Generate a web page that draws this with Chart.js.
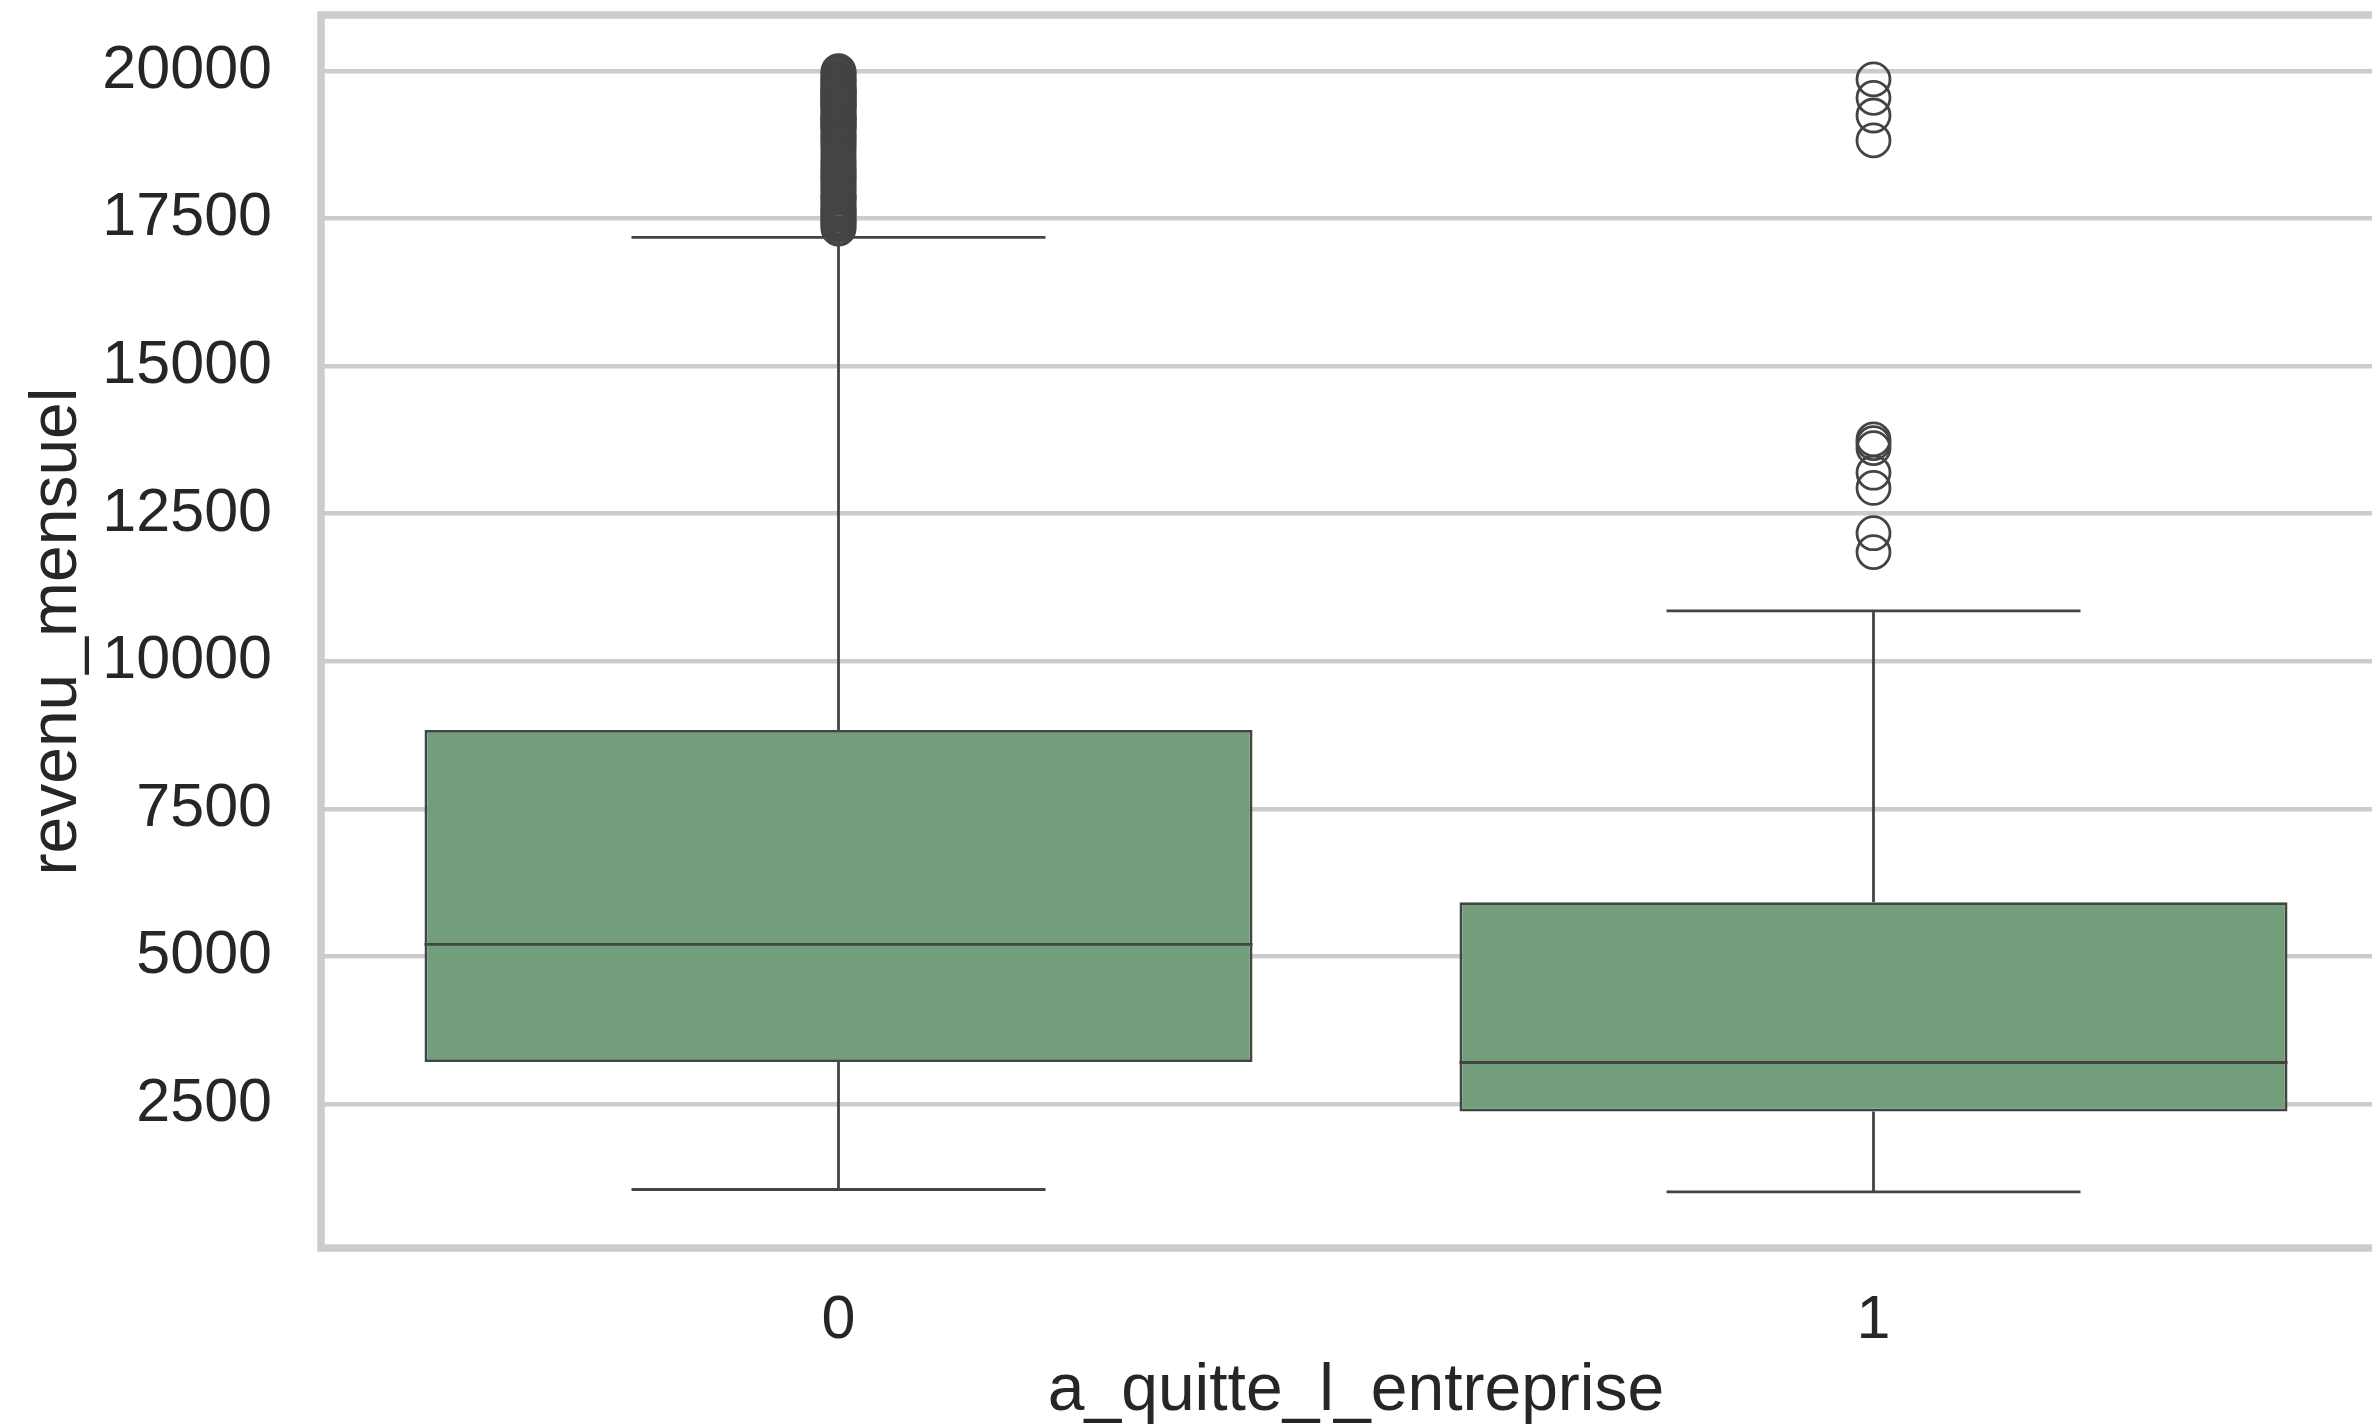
<!DOCTYPE html>
<html>
<head>
<meta charset="utf-8">
<script src="https://cdn.jsdelivr.net/npm/chart.js@4.4.1/dist/chart.umd.min.js"></script>
<style>
  html, body { margin: 0; padding: 0; background: #ffffff; overflow: hidden; width: 2372px; height: 1425px; }
  canvas { display: block; }
</style>
</head>
<body>
<canvas id="chart" width="2400" height="1440"></canvas>
<script>
// Monthly income by attrition group (box summary + outliers)
const categories = ['0', '1'];
const q1 = [3211, 2373];
const medians = [5204, 3202];
const q3 = [8834, 5916];
const whiskerLow = [1051, 1009];
const whiskerHigh = [17181, 10854];

const outliers0 = [
  17328, 17352, 17399, 17426, 17444, 17465, 17498, 17523, 17567, 17584,
  17603, 17639, 17650, 17665, 17702, 17741, 17779, 17810, 17856, 17861,
  17875, 17924, 17968, 18003, 18041, 18061, 18103, 18142, 18172, 18200,
  18213, 18265, 18300, 18303, 18352, 18389, 18430, 18477, 18512, 18560,
  18606, 18665, 18711, 18740, 18789, 18823, 18844, 18880, 18915, 18947,
  18990, 19033, 19045, 19049, 19081, 19094, 19141, 19144, 19161, 19189,
  19197, 19202, 19232, 19237, 19272, 19299, 19328, 19353, 19392, 19406,
  19419, 19431, 19436, 19465, 19502, 19513, 19517, 19537, 19566, 19586,
  19613, 19626, 19627, 19636, 19658, 19665, 19701, 19717, 19740, 19766,
  19797, 19833, 19845, 19847, 19881, 19926, 19943, 19973, 19999
];
const outliers1 = [11849, 12169, 12936, 13194, 13610, 13695, 13758, 18824, 19246, 19545, 19859];

const yTicks = [2500, 5000, 7500, 10000, 12500, 15000, 17500, 20000];
const yMin = 59.5;
const yMax = 20948.5;

const xTitle = 'a_quitte_l_entreprise';
const yTitle = 'revenu_mensuel';

const boxFill = '#729e7c';
const lineColor = '#444444';
const gridColor = '#cccccc';
const textColor = '#262626';
const fontFamily = '"Liberation Sans", Arial, sans-serif';

const outlierPoints = [];
outliers0.forEach(v => outlierPoints.push({ x: categories[0], y: v }));
outliers1.forEach(v => outlierPoints.push({ x: categories[1], y: v }));

// Whiskers and caps under the boxes, medians over them, frame on top
const boxParts = {
  id: 'boxParts',
  beforeDatasetsDraw(chart) {
    const { ctx, scales: { x, y } } = chart;
    const step = x.getPixelForValue(1) - x.getPixelForValue(0);
    ctx.save();
    ctx.strokeStyle = lineColor;
    ctx.lineWidth = 2.8;
    ctx.lineCap = 'butt';
    categories.forEach((c, i) => {
      const cx = x.getPixelForValue(i);
      ctx.beginPath();
      ctx.moveTo(cx, y.getPixelForValue(q1[i]));
      ctx.lineTo(cx, y.getPixelForValue(whiskerLow[i]));
      ctx.moveTo(cx, y.getPixelForValue(q3[i]));
      ctx.lineTo(cx, y.getPixelForValue(whiskerHigh[i]));
      const half = step * 0.2;
      ctx.moveTo(cx - half, y.getPixelForValue(whiskerLow[i]));
      ctx.lineTo(cx + half, y.getPixelForValue(whiskerLow[i]));
      ctx.moveTo(cx - half, y.getPixelForValue(whiskerHigh[i]));
      ctx.lineTo(cx + half, y.getPixelForValue(whiskerHigh[i]));
      ctx.stroke();
    });
    ctx.restore();
  },
  afterDatasetDraw(chart, args) {
    if (args.index !== 0) return;
    const { ctx, scales: { x, y } } = chart;
    const step = x.getPixelForValue(1) - x.getPixelForValue(0);
    ctx.save();
    ctx.strokeStyle = lineColor;
    ctx.lineWidth = 2.8;
    categories.forEach((c, i) => {
      const cx = x.getPixelForValue(i);
      const my = y.getPixelForValue(medians[i]);
      ctx.beginPath();
      ctx.moveTo(cx - step * 0.4, my);
      ctx.lineTo(cx + step * 0.4, my);
      ctx.stroke();
    });
    ctx.restore();
  },
  afterDraw(chart) {
    const { ctx, chartArea: a } = chart;
    ctx.save();
    ctx.strokeStyle = gridColor;
    ctx.lineWidth = 7.5;
    ctx.lineJoin = 'miter';
    ctx.strokeRect(a.left, a.top, a.right - a.left, a.bottom - a.top);
    ctx.restore();
  }
};

new Chart(document.getElementById('chart'), {
  type: 'bar',
  data: {
    labels: categories,
    datasets: [
      {
        type: 'bar',
        data: q1.map((v, i) => [v, q3[i]]),
        backgroundColor: boxFill,
        borderColor: lineColor,
        borderWidth: 2.8,
        borderSkipped: false,
        barPercentage: 1.0,
        categoryPercentage: 0.8,
        order: 2
      },
      {
        type: 'scatter',
        data: outlierPoints,
        pointStyle: 'circle',
        pointRadius: 16.5,
        pointBorderWidth: 2.8,
        pointBorderColor: lineColor,
        pointBackgroundColor: 'rgba(0,0,0,0)',
        showLine: false,
        order: 1
      }
    ]
  },
  options: {
    responsive: false,
    devicePixelRatio: 1,
    animation: false,
    events: [],
    layout: { autoPadding: false, padding: { top: 15, right: 9, bottom: 0, left: 0 } },
    plugins: {
      legend: { display: false },
      tooltip: { enabled: false }
    },
    scales: {
      x: {
        type: 'category',
        offset: true,
        grid: { display: false, drawTicks: false },
        border: { display: false },
        ticks: {
          color: textColor,
          font: { family: fontFamily, size: 61 },
          padding: 37,
          maxRotation: 0
        },
        title: {
          display: true,
          text: xTitle,
          color: textColor,
          font: { family: fontFamily, size: 66 },
          padding: { top: 0, bottom: 9 }
        },
        afterFit(scale) {
          scale.height = 192;
          scale.paddingLeft = 0; scale.paddingRight = 0;
          scale.paddingTop = 0; scale.paddingBottom = 0;
        }
      },
      y: {
        type: 'linear',
        min: yMin,
        max: yMax,
        grid: { color: gridColor, lineWidth: 4.5, drawTicks: false },
        border: { display: false },
        ticks: {
          color: textColor,
          font: { family: fontFamily, size: 61 },
          padding: 49,
          callback: v => String(v)
        },
        afterBuildTicks(scale) {
          scale.ticks = yTicks.map(v => ({ value: v }));
        },
        title: {
          display: true,
          text: yTitle,
          color: textColor,
          font: { family: fontFamily, size: 66 },
          padding: { top: 18, bottom: 0 }
        },
        afterFit(scale) {
          scale.width = 321;
          scale.paddingLeft = 0; scale.paddingRight = 0;
          scale.paddingTop = 0; scale.paddingBottom = 0;
        }
      }
    }
  },
  plugins: [boxParts]
});
</script>
</body>
</html>
